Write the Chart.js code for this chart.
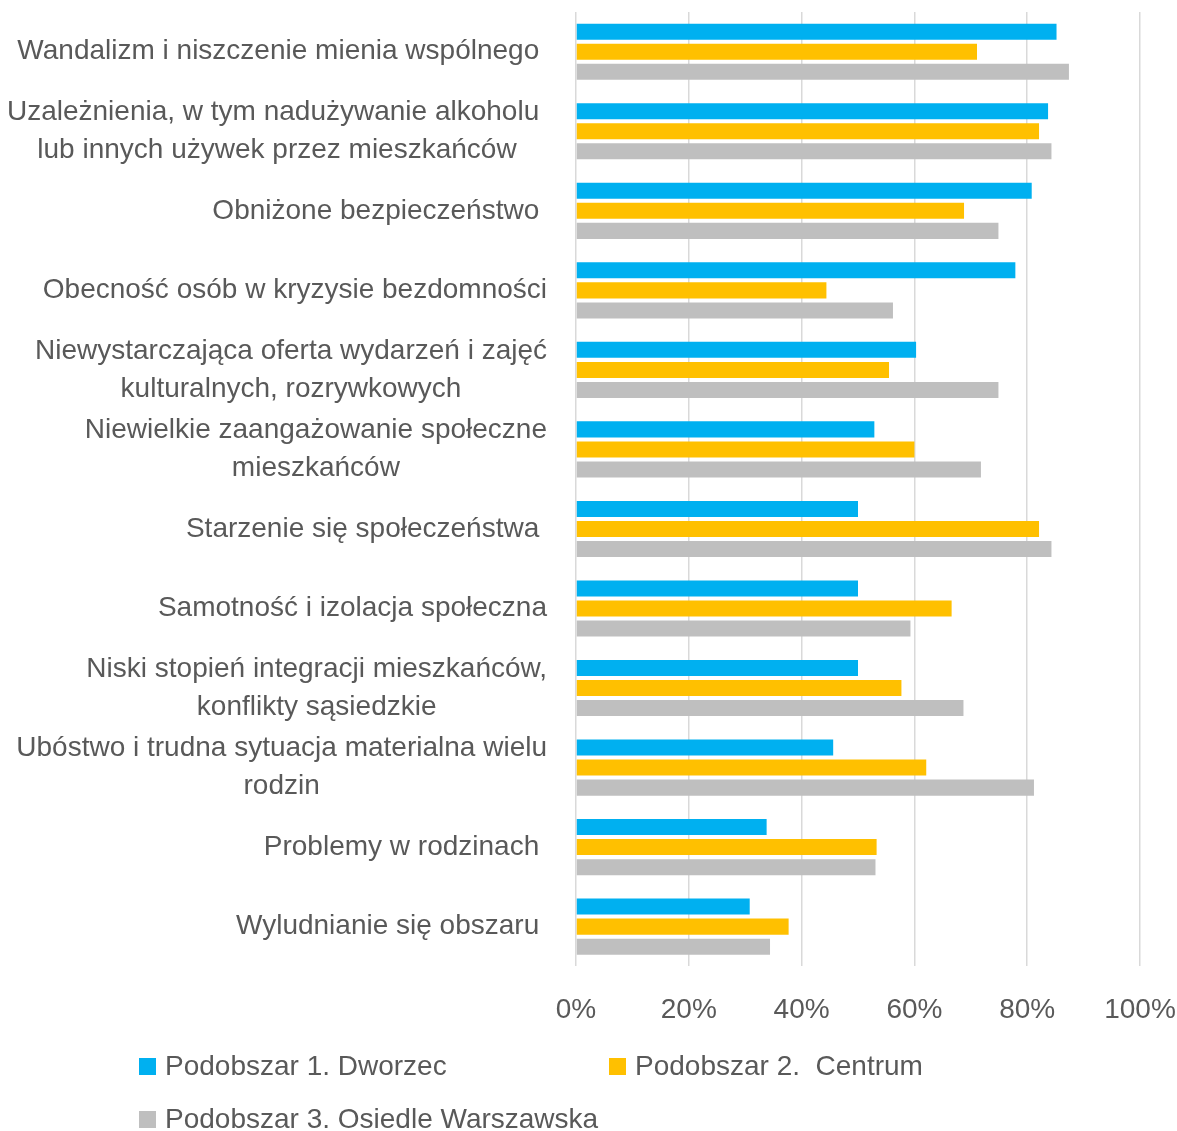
<!DOCTYPE html>
<html lang="pl">
  <head>
    <meta charset="UTF-8" />
    <meta name="viewport" content="width=device-width, initial-scale=1.0" />
    <title>Problemy podobszarów</title>
    <script src="https://cdn.jsdelivr.net/npm/chart.js"></script>
    <style>
      html,
      body {
        margin: 0;
        padding: 0;
        background: #fff;
      }
      #wrap {
        position: relative;
        width: 1177px;
        height: 1131px;
      }
    </style>
  </head>
  <body>
    <div id="wrap"><canvas id="problemsChart"></canvas></div>

    <script>
      // category labels, one array of lines per category (trailing spaces as in the source)
      const categories = [
        ["Wandalizm i niszczenie mienia wspólnego "],
        ["Uzależnienia, w tym nadużywanie alkoholu ", "lub innych używek przez mieszkańców"],
        ["Obniżone bezpieczeństwo "],
        ["Obecność osób w kryzysie bezdomności"],
        ["Niewystarczająca oferta wydarzeń i zajęć", "kulturalnych, rozrywkowych"],
        ["Niewielkie zaangażowanie społeczne", "mieszkańców"],
        ["Starzenie się społeczeństwa "],
        ["Samotność i izolacja społeczna"],
        ["Niski stopień integracji mieszkańców,", "konflikty sąsiedzkie"],
        ["Ubóstwo i trudna sytuacja materialna wielu", "rodzin"],
        ["Problemy w rodzinach "],
        ["Wyludnianie się obszaru "],
      ];

      const seriesNames = [
        "Podobszar 1. Dworzec",
        "Podobszar 2.  Centrum",
        "Podobszar 3. Osiedle Warszawska",
      ];

      const dworzec = [85.2, 83.7, 80.8, 77.9, 60.3, 52.9, 50.0, 50.0, 50.0, 45.6, 33.8, 30.8];
      const centrum = [71.1, 82.1, 68.8, 44.4, 55.5, 60.0, 82.1, 66.6, 57.7, 62.1, 53.3, 37.7];
      const warszawska = [87.4, 84.3, 74.9, 56.2, 74.9, 71.8, 84.3, 59.3, 68.7, 81.2, 53.1, 34.4];

      const xTicks = [0, 20, 40, 60, 80, 100];

      const textColor = "#595959";
      const fontFamily = '"Liberation Sans", Arial, sans-serif';
      const fontSize = 28;

      // wrapped category labels: lines centred on each other, block right-aligned to the axis
      const categoryLabels = {
        id: "categoryLabels",
        afterDraw(chart) {
          const { ctx, chartArea } = chart;
          const yScale = chart.scales.y;
          const right = chartArea.left - 29;
          ctx.save();
          ctx.font = fontSize + "px " + fontFamily;
          ctx.fillStyle = textColor;
          ctx.textAlign = "center";
          ctx.textBaseline = "middle";
          categories.forEach((lines, i) => {
            const y = yScale.getPixelForTick(i);
            const w = Math.max(...lines.map((l) => ctx.measureText(l).width));
            const cx = right - w / 2;
            lines.forEach((line, j) => {
              ctx.fillText(line, cx, y + (j - (lines.length - 1) / 2) * 38);
            });
          });
          ctx.restore();
        },
      };

      // legend laid out like the Excel one: two columns, two rows
      const bottomLegend = {
        id: "bottomLegend",
        afterDraw(chart) {
          const { ctx } = chart;
          const slots = [
            [139, 1066],
            [609, 1066],
            [139, 1119],
          ];
          ctx.save();
          ctx.font = fontSize + "px " + fontFamily;
          ctx.textAlign = "left";
          ctx.textBaseline = "middle";
          chart.data.datasets.forEach((ds, i) => {
            const [x, y] = slots[i];
            ctx.fillStyle = ds.backgroundColor;
            ctx.fillRect(x, y - 8, 17, 17);
            ctx.fillStyle = textColor;
            ctx.fillText(ds.label, x + 26, y + 1);
          });
          ctx.restore();
        },
      };

      const ctx = document.getElementById("problemsChart").getContext("2d");
      const problemsChart = new Chart(ctx, {
        type: "bar",
        data: {
          labels: categories,
          datasets: [
            { label: seriesNames[0], data: dworzec, backgroundColor: "#00B0F0" },
            { label: seriesNames[1], data: centrum, backgroundColor: "#FFC000" },
            { label: seriesNames[2], data: warszawska, backgroundColor: "#BFBFBF" },
          ],
        },
        options: {
          indexAxis: "y",
          responsive: true,
          maintainAspectRatio: false,
          animation: false,
          datasets: {
            bar: {
              categoryPercentage: 0.756,
              barPercentage: 0.8,
            },
          },
          layout: {
            padding: { top: 12, right: 37, bottom: 77, left: 576 },
          },
          plugins: {
            legend: { display: false },
            tooltip: { enabled: false },
          },
          scales: {
            x: {
              min: 0,
              max: 100,
              afterBuildTicks: (scale) => {
                scale.ticks = xTicks.map((v) => ({ value: v }));
              },
              afterFit: (scale) => {
                scale.paddingLeft = 0;
                scale.paddingRight = 0;
              },
              grid: {
                color: "#d9d9d9",
                lineWidth: 1.5,
                drawTicks: false,
              },
              border: { display: false },
              ticks: {
                padding: 27,
                color: textColor,
                font: { size: fontSize, family: fontFamily },
                callback: (v) => v + "%",
              },
            },
            y: {
              display: false,
            },
          },
        },
        plugins: [categoryLabels, bottomLegend],
      });
    </script>
  </body>
</html>
